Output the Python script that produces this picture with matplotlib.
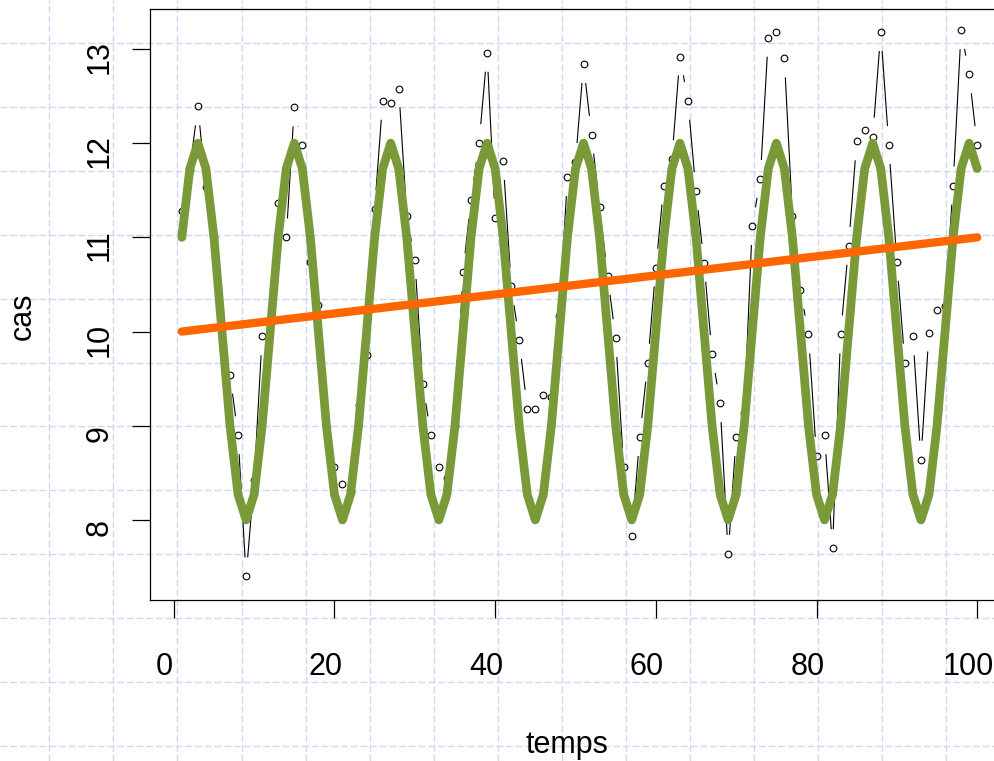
import numpy as np
import matplotlib
matplotlib.use("Agg")
import matplotlib.pyplot as plt
from matplotlib.lines import Line2D
from matplotlib.collections import LineCollection

temps = np.arange(1, 101)
cas = [11.28, 11.72, 12.39, 11.53, 11.00, 10.05, 9.54, 8.90, 7.40, 8.42,
       9.95, 10.10, 11.36, 11.00, 12.38, 11.98, 10.74, 10.28, 9.00, 8.56,
       8.38, 8.30, 9.22, 9.75, 11.30, 12.45, 12.43, 12.58, 11.23, 10.76,
       9.44, 8.90, 8.56, 8.45, 9.00, 10.63, 11.40, 12.00, 12.96, 11.21,
       11.81, 10.48, 9.91, 9.18, 9.18, 9.33, 9.31, 10.17, 11.64, 11.80,
       12.84, 12.09, 11.32, 10.59, 9.93, 8.56, 7.83, 8.88, 9.67, 10.68,
       11.55, 11.83, 12.92, 12.45, 11.49, 10.73, 9.76, 9.24, 7.64, 8.88,
       9.14, 11.12, 11.62, 13.12, 13.18, 12.90, 11.23, 10.44, 9.97, 8.68,
       8.90, 7.70, 9.97, 10.91, 12.02, 12.14, 12.07, 13.18, 11.98, 10.74,
       9.67, 9.95, 8.64, 9.99, 10.23, 10.27, 11.55, 13.20, 12.73, 11.98]

# composante saisonniere (un cycle de 12), repetee
saison = [11.0, 11.73, 12.0, 11.73, 11.0, 10.0, 9.0, 8.27, 8.0, 8.27, 9.0, 10.0]
modele = np.tile(saison, 9)[:len(temps)]

# tendance
tendance_t = [1, 100]
tendance_v = [10.0, 11.0]

xticks = [0, 20, 40, 60, 80, 100]
yticks = [8, 9, 10, 11, 12, 13]

W, H, DPI = 994, 761, 100
plt.rcParams['font.family'] = ['Liberation Sans', 'DejaVu Sans']
FS = 22

fig = plt.figure(figsize=(W / DPI, H / DPI), dpi=DPI)
fig.patch.set_facecolor('white')

# papier quadrille en fond
grid_kw = dict(color='#cdd8f8', lw=1.0, ls=(0, (5, 2)), zorder=-5)
for gx in 49.4 + 64.04 * np.arange(15):
    fig.add_artist(Line2D([gx / W, gx / W], [0, 1], transform=fig.transFigure, **grid_kw))
for gy in 43 + 63.9 * np.arange(12):
    fig.add_artist(Line2D([0, 1], [1 - gy / H, 1 - gy / H], transform=fig.transFigure, **grid_kw))

# zone de trace (le bord droit sort de l'image)
left, right, top, bottom = 150, 1009, 8.5, 600
ax = fig.add_axes([left / W, 1 - bottom / H, (right - left) / W, (bottom - top) / H])
ax.set_xlim(-2.96, 103.96)
ax.set_ylim(7.15, 13.43)
ax.patch.set_alpha(0)
for s in ax.spines.values():
    s.set_linewidth(0.9)
    s.set_color('black')

ax.set_xticks(xticks)
ax.set_yticks(yticks)
ax.tick_params(direction='out', length=13, width=0.9, labelbottom=False, labelleft=False)

# ligne type "b" : segments interrompus autour des points
pts = ax.transData.transform(np.column_stack([temps, cas]))
inv = ax.transData.inverted()
gap = 19
segs = []
for p, q in zip(pts[:-1], pts[1:]):
    d = q - p
    L = np.hypot(*d)
    if L > 2 * gap:
        u = d / L
        segs.append(inv.transform(np.array([p + gap * u, q - gap * u])))
ax.add_collection(LineCollection(segs, colors='black', linewidths=0.8, zorder=2))
ax.plot(temps, cas, 'o', mfc='none', mec='black', ms=4.8, mew=0.8, zorder=2)

ax.plot(temps, modele, color='#7a9a3a', lw=6.3, solid_joinstyle='round',
        solid_capstyle='round', zorder=3)
ax.plot(tendance_t, tendance_v, color='#ff6600', lw=6, solid_capstyle='round', zorder=4)

# etiquettes des graduations
for v in xticks:
    ax.annotate(str(v), xy=(v, 0), xycoords=ax.get_xaxis_transform(),
                xytext=(-9, -67), textcoords='offset pixels',
                ha='center', va='center', fontsize=FS)
for v in yticks:
    ax.annotate(str(v), xy=(0, v), xycoords=ax.get_yaxis_transform(),
                xytext=(-50, -8), textcoords='offset pixels',
                ha='center', va='center', rotation=90, fontsize=FS)

fig.text(567 / W, 1 - 745 / H, 'temps', ha='center', va='center', fontsize=FS)
fig.text(23 / W, 1 - 316 / H, 'cas', ha='center', va='center', rotation=90, fontsize=FS)

fig.savefig('out.png', dpi=DPI, facecolor='white')
